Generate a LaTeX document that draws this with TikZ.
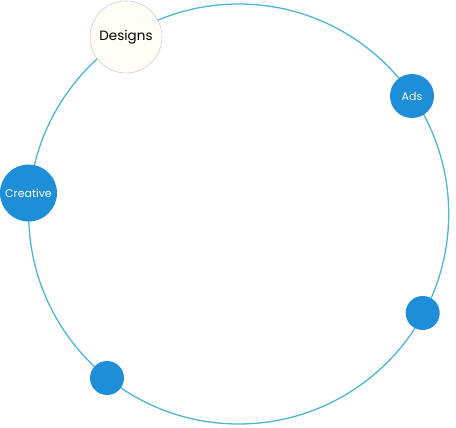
\documentclass[tikz,border=0pt]{standalone}
\usepackage{fontspec}
\setmainfont{Poppins}
\definecolor{ringblue}{HTML}{4DB6D8}
\definecolor{dotblue}{HTML}{1E8ED8}
\definecolor{cream}{HTML}{FFFDF6}
\definecolor{rimgray}{HTML}{CFCFCF}
\begin{document}
\begin{tikzpicture}[x=1pt,y=-1pt,
  dot/.style={circle,fill=dotblue,draw=none,inner sep=0pt,text=white,font=\fontsize{11}{13}\selectfont},
  ring/.style={draw=ringblue,line width=1.3pt}]
\useasboundingbox (0,0) rectangle (456,428);
\coordinate (c) at (238.7,214);
\draw[ring] (c) circle (210);
\node[circle,fill=cream,draw=rimgray,line width=0.6pt,minimum size=72pt,inner sep=0pt,font=\fontsize{13.5}{15}\selectfont] (designs) at (126,37) {Designs};
\node[dot,minimum size=44pt] (ads) at (412,96) {Ads};
\node[dot,minimum size=57pt] (creative) at (28.5,193) {Creative};
\node[dot,minimum size=34pt] (d1) at (422.7,313) {};
\node[dot,minimum size=34pt] (d2) at (107,378) {};
\end{tikzpicture}
\end{document}
